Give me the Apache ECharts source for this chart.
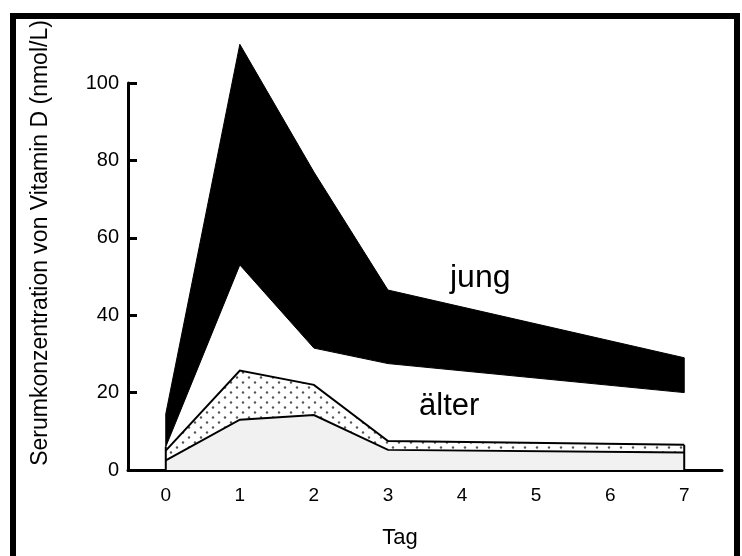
<!DOCTYPE html>
<html>
<head>
<meta charset="utf-8">
<script src="https://cdn.jsdelivr.net/npm/echarts@6/dist/echarts.min.js"></script>
<style>
  html, body { margin: 0; padding: 0; background: #fff; }
  #chart { width: 742px; height: 556px; }
</style>
</head>
<body>
<div id="chart"></div>
<script>
// Serum vitamin D after a single dose, young vs. older subjects
var days = [0, 1, 2, 3, 7];
var jungLower = [6, 53, 31.5, 27.5, 20];
var jungUpper = [14.5, 110, 77, 46.5, 29];
var alterLower = [2.5, 13, 14.2, 5.2, 4.5];
var alterUpper = [5, 25.7, 22, 7.5, 6.5];
var xTicks = [0, 1, 2, 3, 4, 5, 6, 7];
var yTicks = [0, 20, 40, 60, 80, 100];

var FONT = '"Liberation Sans", Arial, sans-serif';

// stipple tile for the band of older subjects
function dotPattern() {
  var c = document.createElement('canvas');
  c.width = 12; c.height = 10;
  var g = c.getContext('2d');
  g.fillStyle = '#ffffff';
  g.fillRect(0, 0, 12, 10);
  g.fillStyle = '#555555';
  [[3, 2.5], [9, 7.5]].forEach(function (p) {
    g.beginPath();
    g.arc(p[0], p[1], 1.2, 0, Math.PI * 2);
    g.fill();
  });
  return c;
}
var DOTS = { image: dotPattern(), repeat: 'repeat' };

function rows(lower, upper) {
  return days.map(function (d, i) { return [d, lower[i], upper[i]]; });
}

// draws a whole band (upper line, lower line, fill between) once, on the first item
function bandItem(lower, upper, opts) {
  return function (params, api) {
    if (params.dataIndex !== 0) return null;
    var top = days.map(function (d, i) { return api.coord([d, upper[i]]); });
    var bot = days.map(function (d, i) { return api.coord([d, lower[i]]); });
    var children = [];
    if (opts.baseFill) {
      var base = days.map(function (d) { return api.coord([d, 0]); });
      children.push({
        type: 'polygon',
        shape: { points: bot.concat(base.slice().reverse()) },
        style: { fill: opts.baseFill, stroke: null }
      });
    }
    children.push({
      type: 'polygon',
      shape: { points: top.concat(bot.slice().reverse()) },
      style: { fill: opts.fill, stroke: opts.fill === '#000' ? '#000' : null, lineWidth: 1 }
    });
    if (opts.outline) {
      children.push({ type: 'polyline', shape: { points: top },
        style: { stroke: '#000', lineWidth: opts.outline, fill: null } });
      children.push({ type: 'polyline', shape: { points: bot },
        style: { stroke: '#000', lineWidth: opts.outline, fill: null } });
    }
    if (opts.edges) {
      opts.edges.forEach(function (e) {
        var a = api.coord([e[0], 0]);
        var b = api.coord([e[0], e[1]]);
        children.push({ type: 'line', shape: { x1: a[0], y1: a[1], x2: b[0], y2: b[1] },
          style: { stroke: '#000', lineWidth: 2 } });
      });
    }
    return { type: 'group', children: children };
  };
}

var chart = echarts.init(document.getElementById('chart'), null, { renderer: 'canvas' });

var lastDay = days[days.length - 1];

chart.setOption({
  backgroundColor: '#ffffff',
  animation: false,
  grid: { left: 128, right: 20, top: 83, bottom: 86, containLabel: false },
  xAxis: {
    type: 'value',
    min: -0.51,
    max: 7.51,
    axisLine: { show: true, onZero: false, lineStyle: { color: '#000', width: 3 } },
    axisTick: { show: true, inside: true, length: 8, customValues: xTicks, lineStyle: { color: '#000', width: 2 } },
    axisLabel: { customValues: xTicks, color: '#000', fontSize: 19, fontFamily: FONT, margin: 16 },
    splitLine: { show: false }
  },
  yAxis: {
    type: 'value',
    min: 0,
    max: 100,
    interval: 20,
    axisLine: { show: true, onZero: false, lineStyle: { color: '#000', width: 3 } },
    axisTick: { show: true, inside: true, length: 9, lineStyle: { color: '#000', width: 3 } },
    axisLabel: { color: '#000', fontSize: 20, fontFamily: FONT, margin: 9,
      formatter: function (v) { return yTicks.indexOf(v) >= 0 ? String(v) : ''; } },
    splitLine: { show: false }
  },
  graphic: [
    { type: 'rect', silent: true, z: 100,
      shape: { x: 13, y: 16, width: 724, height: 600 },
      style: { fill: 'none', stroke: '#000', lineWidth: 6 } },
    { type: 'text', silent: true, z: 100, x: 41, y: 243, rotation: Math.PI / 2,
      style: { text: 'Serumkonzentration von Vitamin D (nmol/L)', fill: '#000',
        font: '23px ' + FONT, align: 'center', verticalAlign: 'middle' } },
    { type: 'text', silent: true, z: 100, x: 400, y: 538,
      style: { text: 'Tag', fill: '#000', font: '22px ' + FONT, align: 'center', verticalAlign: 'middle' } },
    { type: 'text', silent: true, z: 100, x: 450, y: 278,
      style: { text: 'jung', fill: '#000', font: '32px ' + FONT, align: 'left', verticalAlign: 'middle' } },
    { type: 'text', silent: true, z: 100, x: 419, y: 406,
      style: { text: 'älter', fill: '#000', font: '31px ' + FONT, align: 'left', verticalAlign: 'middle' } }
  ],
  series: [
    {
      name: 'jung', type: 'custom', clip: false,
      data: rows(jungLower, jungUpper),
      encode: { x: 0, y: [1, 2] },
      renderItem: bandItem(jungLower, jungUpper, { fill: '#000' })
    },
    {
      name: 'älter', type: 'custom', clip: false,
      data: rows(alterLower, alterUpper),
      encode: { x: 0, y: [1, 2] },
      renderItem: bandItem(alterLower, alterUpper, {
        fill: DOTS, baseFill: '#f1f1f1', outline: 2,
        edges: [[days[0], jungLower[0]], [lastDay, alterUpper[alterUpper.length - 1]]]
      })
    }
  ]
});
</script>
</body>
</html>
